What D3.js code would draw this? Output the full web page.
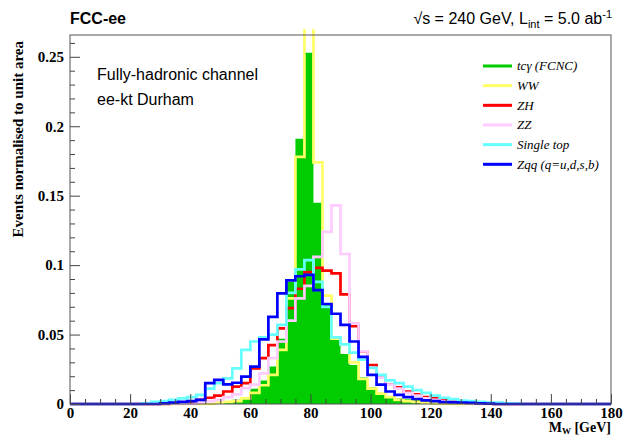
<!DOCTYPE html>
<html><head><meta charset="utf-8">
<script src="https://cdn.jsdelivr.net/npm/d3@7"></script>
<style>body{margin:0;background:#fff} svg{display:block}</style>
</head><body>
<svg id="c" width="623" height="436"></svg>
<script>
// ---- data: 60 bins of 3 GeV from 0 to 180 GeV ----
const binEdgesStart = d3.range(0, 180, 3);
const tcgamma = [0,0,0,0,0, 0,0,0,0,0, 0,0,0,0,0,
  0.0005,0.001,0.002,0.003,0.005, 0.011,0.017,0.027,0.047,0.088,
  0.191,0.253,0.145,0.072,0.047, 0.036,0.028,0.019,0.012,0.008,
  0.005,0.004,0.0035,0.003,0.0025, 0.002,0.0015,0.001,0.0005,0,
  0,0,0,0,0, 0,0,0,0,0, 0,0,0,0,0];
const ww = [0,0,0,0,0, 0,0,0,0,0, 0,0,0,0,0,
  0,0.001,0.0015,0.002,0.004, 0.008,0.0135,0.021,0.039,0.076,
  0.178,0.30,0.174,0.078,0.047, 0.043,0.030,0.018,0.011,0.0075,
  0.005,0.003,0.002,0.0015,0.001, 0.0005,0,0,0,0,
  0,0,0,0,0, 0,0,0,0,0, 0,0,0,0,0];
const zh = [0,0,0,0,0, 0,0,0,0,0, 0,0.0005,0.001,0.0017,0.003,
  0.0045,0.006,0.009,0.0125,0.015, 0.0257,0.033,0.0424,0.0545,0.069,
  0.083,0.095,0.098,0.096,0.094, 0.079,0.056,0.038,0.028,0.019,
  0.014,0.012,0.009,0.007,0.005, 0.004,0.003,0.002,0.0015,0.001,
  0.0006,0.0003,0,0,0, 0,0,0,0,0, 0,0,0,0,0];
const zz = [0,0,0,0,0, 0,0,0,0,0, 0,0,0,0,0.001,
  0.002,0.003,0.005,0.007,0.0115, 0.014,0.022,0.033,0.045,0.060,
  0.076,0.085,0.106,0.124,0.143, 0.108,0.058,0.038,0.026,0.019,
  0.014,0.011,0.008,0.006,0.004, 0.003,0.002,0.0015,0.001,0.0005,
  0,0,0,0,0, 0,0,0,0,0, 0,0,0,0,0];
const singleTop = [0,0,0,0,0, 0,0,0,0.0005,0.0015, 0.002,0.003,0.004,0.005,0.0065,
  0.011,0.015,0.0185,0.0257,0.039, 0.045,0.048,0.050,0.057,0.080,
  0.097,0.1036,0.088,0.070,0.048, 0.043,0.037,0.032,0.026,0.021,
  0.017,0.015,0.0125,0.010,0.008, 0.006,0.0045,0.0035,0.0025,0.002,
  0.0015,0.001,0.001,0.0005,0.0003, 0,0,0,0,0, 0,0,0,0,0];
const zqq = [0,0,0,0,0, 0,0,0,0,0, 0.0005,0.001,0.0015,0.002,0.003,
  0.015,0.0173,0.0142,0.0153,0.0197, 0.0269,0.0465,0.0628,0.0796,0.089,
  0.092,0.093,0.082,0.072,0.065, 0.057,0.045,0.034,0.021,0.014,
  0.009,0.0065,0.005,0.0036,0.0026, 0.002,0.0014,0.0012,0.001,0.0008,
  0.0005,0.0003,0,0,0, 0,0,0,0,0, 0,0,0,0,0];

const seriesNames = ["tc\u03b3 (FCNC)", "WW", "ZH", "ZZ", "Single top", "Zqq (q=u,d,s,b)"];
const seriesColors = ["#00cc00", "#ffff66", "#ff0000", "#ffccff", "#66ffff", "#0000ff"];
const seriesData = [tcgamma, ww, zh, zz, singleTop, zqq];
const xTicks = [0,20,40,60,80,100,120,140,160,180];
const yTicks = [0,0.05,0.1,0.15,0.2,0.25];

const svg = d3.select("#c");
const x = d3.scaleLinear().domain([0,180]).range([70,611]);
const y = d3.scaleLinear().domain([0,0.2657]).range([404,35]);

svg.append("defs").append("clipPath").attr("id","clip")
  .append("rect").attr("x",60).attr("y",29).attr("width",560).attr("height",390);

function pts(h){ const p = binEdgesStart.map((e,i)=>[e,h[i]]); p.push([180,h[h.length-1]]); return p; }

const plot = svg.append("g").attr("clip-path","url(#clip)");
// filled signal
plot.append("path")
  .attr("d", d3.area().x(d=>x(d[0])).y0(y(0)).y1(d=>y(d[1])).curve(d3.curveStepAfter)(pts(tcgamma)))
  .attr("fill", seriesColors[0]).attr("stroke","none");

// outlines
seriesData.forEach((h,i)=>{
  if(i===0) return;
  plot.append("path")
    .attr("d", d3.line().x(d=>x(d[0])).y(d=>y(d[1])).curve(d3.curveStepAfter)(pts(h)))
    .attr("fill","none").attr("stroke", seriesColors[i]).attr("stroke-width",2.7);
});

// axes
const serif = "'Liberation Serif','Times New Roman',serif";
svg.append("g").attr("transform","translate(0,404)")
  .call(d3.axisBottom(x).tickValues(xTicks).tickSize(-10).tickPadding(3).tickFormat(d3.format("d")));
svg.append("g").attr("transform","translate(0,404)")
  .call(d3.axisBottom(x).tickValues(d3.range(0,181,5).filter(v=>v%20)).tickSize(-5).tickFormat(""));
svg.append("g").attr("transform","translate(70,0)")
  .call(d3.axisLeft(y).tickValues(yTicks).tickSize(-10).tickPadding(6).tickFormat(d=>String(+d.toFixed(2))));
svg.append("g").attr("transform","translate(70,0)")
  .call(d3.axisLeft(y).tickValues(d3.range(1,27).map(v=>v/100).filter((v,i)=>(i+1)%5)).tickSize(-5).tickFormat(""));
svg.selectAll(".domain").remove();
svg.selectAll(".tick line").attr("stroke","#444");
svg.selectAll(".tick text").attr("font-family",serif).attr("font-weight","bold").attr("font-size",15).attr("fill","#000");

// frame
svg.append("rect").attr("x",70).attr("y",35).attr("width",541).attr("height",369)
  .attr("fill","none").attr("stroke","#555").attr("stroke-width",1);

// axis titles
const xt = svg.append("text").attr("x",611).attr("y",432).attr("text-anchor","end")
  .attr("font-family",serif).attr("font-weight","bold").attr("font-size",14);
xt.append("tspan").text("M");
xt.append("tspan").attr("font-size",9).attr("dy",2).text("W");
xt.append("tspan").attr("dy",-2).text(" [GeV]");
svg.append("text").attr("transform","translate(23,41) rotate(-90)").attr("text-anchor","end")
  .attr("font-family",serif).attr("font-weight","bold").attr("font-size",15)
  .text("Events normalised to unit area");

// header
const sans = "'Liberation Sans',Arial,sans-serif";
svg.append("text").attr("x",70).attr("y",24).attr("font-family",sans).attr("font-weight","bold")
  .attr("font-size",16).text("FCC-ee");
const hd = svg.append("text").attr("x",612).attr("y",24).attr("text-anchor","end")
  .attr("font-family",sans).attr("font-size",16);
hd.append("tspan").text("\u221as = 240 GeV, L");
hd.append("tspan").attr("font-size",11).attr("dy",4).text("int");
hd.append("tspan").attr("dy",-4).text(" = 5.0 ab");
hd.append("tspan").attr("font-size",11).attr("dy",-6).text("-1");

svg.append("text").attr("x",97).attr("y",80).attr("font-family",sans).attr("font-size",16).text("Fully-hadronic channel");
svg.append("text").attr("x",97).attr("y",105).attr("font-family",sans).attr("font-size",16).text("ee-kt Durham");

// legend
const legY = d3.scaleLinear().domain([0,5]).range([66,164.3]);
seriesNames.forEach((n,i)=>{
  const yy = legY(i);
  svg.append("line").attr("x1",483).attr("x2",512).attr("y1",yy).attr("y2",yy)
    .attr("stroke",seriesColors[i]).attr("stroke-width",3);
  svg.append("text").attr("x",517).attr("y",yy).attr("dy","0.33em")
    .attr("font-family",serif).attr("font-style","italic").attr("font-size",13).text(n);
});
</script>
</body></html>
